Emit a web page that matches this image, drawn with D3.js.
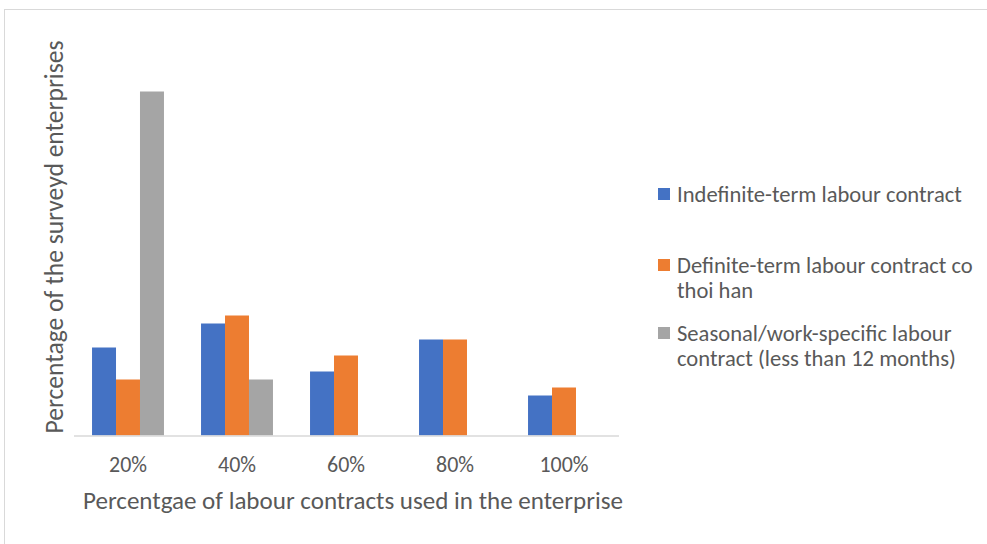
<!DOCTYPE html>
<html><head><meta charset="utf-8">
<script src="https://cdn.jsdelivr.net/npm/d3@7"></script>
<style>body{margin:0;background:#fff}svg{display:block}text{font-family:Carlito,Calibri,Lato,"Open Sans",sans-serif;fill:#595959}</style>
</head><body>
<script>
const categories = ["20%", "40%", "60%", "80%", "100%"];
const seriesNames = ["Indefinite-term labour contract", "Definite-term labour contract co thoi han", "Seasonal/work-specific labour contract (less than 12 months)"];
const indefinite = [11, 14, 8, 12, 5];
const definite = [7, 15, 10, 12, 6];
const seasonal = [43, 7, 0, 0, 0];
const colors = ["#4472C4", "#ED7D31", "#A5A5A5"];
const legendLines = [["Indefinite-term labour contract"], ["Definite-term labour contract co", "thoi han"], ["Seasonal/work-specific labour", "contract (less than 12 months)"]];

const W = 987, H = 544;
const svg = d3.select("body").append("svg").attr("width", W).attr("height", H);
svg.append("rect").attr("x", 4.5).attr("y", 9.5).attr("width", 1000).attr("height", 600).attr("fill", "none").attr("stroke", "#D9D9D9");

const x0 = d3.scaleBand().domain(categories).range([73.5, 618.5]).paddingInner(0.34).paddingOuter(0.17);
const keys = [0, 1, 2];
const x1 = d3.scaleBand().domain(keys).range([0, x0.bandwidth()]);
const y = d3.scaleLinear().domain([0, 50]).range([435.5, 35.5]);
const series = [indefinite, definite, seasonal];

const g = svg.append("g");
categories.forEach((c, i) => {
  g.selectAll(null).data(keys).enter().append("rect")
    .attr("x", k => x0(c) + x1(k))
    .attr("width", x1.bandwidth())
    .attr("y", k => y(series[k][i]))
    .attr("height", k => y(0) - y(series[k][i]))
    .attr("fill", k => colors[k]);
});

function fit(t, w) {
  const len = t.node().getComputedTextLength();
  const fs = parseFloat(t.attr("font-size"));
  t.attr("font-size", fs * w / len);
}

const xAxis = svg.append("g").attr("transform", "translate(0,435.5)").call(d3.axisBottom(x0).tickSize(0).tickPadding(29));
xAxis.select(".domain").attr("stroke", "#D9D9D9").attr("stroke-width", 1.5);
const tickTexts = xAxis.selectAll("text").attr("fill", "#595959").attr("dy", "0.35em")
  .attr("font-size", 18).style("font-family", "Carlito,Calibri,Lato,sans-serif");
const firstTick = xAxis.select(".tick text");
fit(firstTick, 38);
tickTexts.attr("font-size", firstTick.attr("font-size"));

const xt = svg.append("text").attr("x", 353).attr("y", 509).attr("text-anchor", "middle").attr("font-size", 20)
  .text("Percentgae of labour contracts used in the enterprise");
fit(xt, 540);

const yt = svg.append("text").attr("transform", "translate(63,237) rotate(-90)").attr("text-anchor", "middle").attr("font-size", 20)
  .text("Percentage of the surveyd enterprises");
fit(yt, 393);

const legY = [194, 265, 333];
legendLines.forEach((lines, i) => {
  svg.append("rect").attr("x", 658).attr("y", legY[i] - 6).attr("width", 12).attr("height", 12).attr("fill", colors[i]);
  lines.forEach((ln, j) => {
    const t = svg.append("text").attr("x", 677).attr("y", legY[i] + j * 25).attr("dy", "0.35em").attr("font-size", 18).text(ln);
    if (i === 0) fit(t, 285);
  });
});
const fs0 = d3.select(svg.selectAll("text").nodes().find(n => n.textContent === legendLines[0][0])).attr("font-size");
svg.selectAll("text").filter(function(){ return +this.getAttribute("x") === 677; }).attr("font-size", fs0);
</script>
</body></html>
